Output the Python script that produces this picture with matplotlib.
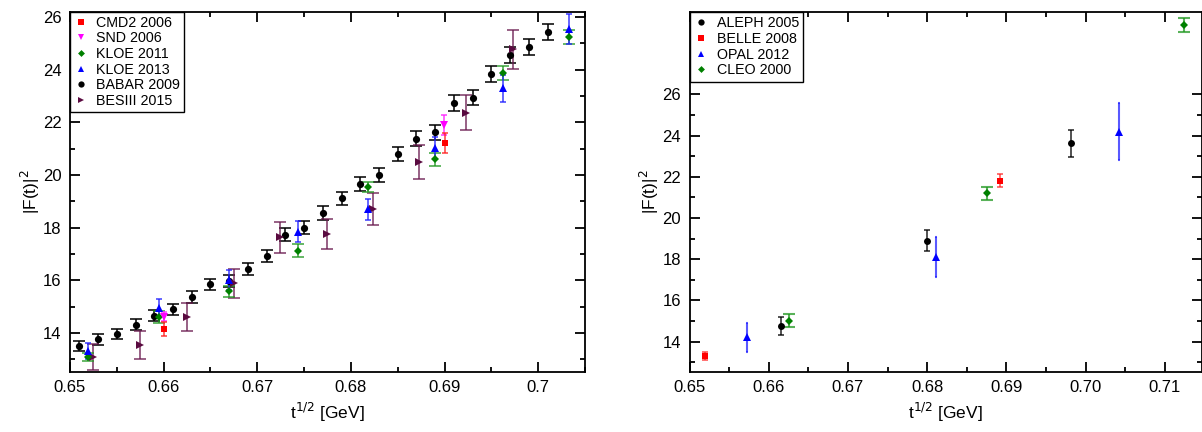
import numpy as np
import matplotlib.pyplot as plt
from matplotlib.lines import Line2D
from matplotlib.ticker import MultipleLocator, FixedLocator, FixedFormatter

plt.rcParams['font.family'] = ['Liberation Sans', 'DejaVu Sans']
plt.rcParams['font.size'] = 10

# =========================
# LEFT PANEL DATA (e+e- -> pi+pi-)
# =========================
cmd2_x = [0.6600, 0.6900]
cmd2_y = [14.14, 21.20]
cmd2_e = [0.27, 0.38]

snd_x = [0.6600, 0.6899]
snd_y = [14.62, 21.90]
snd_e = [0.18, 0.38]

kloe11_x = [0.6519, 0.6595, 0.6670, 0.6744, 0.6818, 0.6890, 0.6962, 0.7033]
kloe11_y = [13.10, 14.60, 15.58, 17.13, 19.56, 20.60, 23.86, 25.23]
kloe11_e = [0.15, 0.23, 0.20, 0.25, 0.19, 0.25, 0.27, 0.27]

kloe13_x = [0.6519, 0.6595, 0.6670, 0.6744, 0.6818, 0.6890, 0.6962, 0.7033]
kloe13_y = [13.32, 14.94, 16.02, 17.85, 18.70, 21.03, 23.29, 25.53]
kloe13_e = [0.32, 0.34, 0.38, 0.41, 0.39, 0.42, 0.52, 0.57]

babar_x = [0.651, 0.653, 0.655, 0.657, 0.659, 0.661, 0.663, 0.665, 0.667,
           0.669, 0.671, 0.673, 0.675, 0.677, 0.679, 0.681, 0.683, 0.685,
           0.687, 0.689, 0.691, 0.693, 0.695, 0.697, 0.699, 0.701]
babar_y = [13.52, 13.76, 13.96, 14.32, 14.66, 14.91, 15.36, 15.85, 15.99,
           16.42, 16.92, 17.74, 18.00, 18.56, 19.11, 19.66, 20.01, 20.79,
           21.38, 21.62, 22.73, 22.94, 23.84, 24.57, 24.85, 25.44]
babar_e = [0.19, 0.20, 0.20, 0.21, 0.21, 0.21, 0.22, 0.22, 0.23,
           0.23, 0.24, 0.24, 0.25, 0.25, 0.26, 0.26, 0.27, 0.27,
           0.28, 0.28, 0.29, 0.29, 0.29, 0.30, 0.30, 0.30]

bes_x = [0.6525, 0.6575, 0.6625, 0.6675, 0.6724, 0.6774, 0.6824, 0.6873, 0.6923, 0.6973]
bes_y = [13.10, 13.54, 14.60, 15.89, 17.63, 17.76, 18.70, 20.50, 22.37, 24.77]
bes_e = [0.50, 0.52, 0.53, 0.56, 0.60, 0.58, 0.61, 0.65, 0.66, 0.73]

# =========================
# RIGHT PANEL DATA (tau decays)
# =========================
aleph_x = [0.6615, 0.6800, 0.6982]
aleph_y = [14.76, 18.89, 23.63]
aleph_e = [0.42, 0.51, 0.65]

belle_x = [0.6520, 0.6892]
belle_y = [13.31, 21.82]
belle_e = [0.18, 0.30]

opal_x = [0.6573, 0.6811, 0.7042]
opal_y = [14.21, 18.13, 24.19]
opal_e = [0.70, 0.97, 1.37]

cleo_x = [0.6626, 0.6875, 0.7124]
cleo_y = [15.02, 21.20, 29.37]
cleo_e = [0.32, 0.32, 0.36]

left_xticks = [0.65, 0.66, 0.67, 0.68, 0.69, 0.70]
left_xlabels = ['0.65', '0.66', '0.67', '0.68', '0.69', '0.7']
right_xticks = [0.65, 0.66, 0.67, 0.68, 0.69, 0.70, 0.71]
right_xlabels = ['0.65', '0.66', '0.67', '0.68', '0.69', '0.70', '0.71']

# =========================
# FIGURE
# =========================
fig = plt.figure(figsize=(12.02, 4.32), dpi=100)
axL = fig.add_axes([70 / 1202, 1 - 372 / 432, 515 / 1202, 360 / 432])
axR = fig.add_axes([689.5 / 1202, 1 - 372 / 432, 512.5 / 1202, 360 / 432])


def series(ax, x, y, e, marker, color, ecolor, ms, cap, lw=1.3, alpha=0.75):
    ax.errorbar(x, y, yerr=e, fmt='none', ecolor=ecolor, elinewidth=lw,
                capsize=cap, capthick=lw, alpha=alpha, zorder=2)
    ax.plot(x, y, linestyle='none', marker=marker, color=color,
            markersize=ms, markeredgewidth=0, zorder=3)


# left panel
series(axL, babar_x, babar_y, babar_e, 'o', 'black', 'black', 5.2, 4, alpha=0.85)
series(axL, bes_x, bes_y, bes_e, '>', '#5a0a40', '#6a1a50', 5.3, 4)
series(axL, kloe11_x, kloe11_y, kloe11_e, 'D', '#008000', '#229922', 3.8, 4)
series(axL, kloe13_x, kloe13_y, kloe13_e, '^', '#0000ff', '#2222ff', 5.5, 2.2)
series(axL, snd_x, snd_y, snd_e, 'v', '#ff00ff', '#ff22ff', 5.5, 2.2)
series(axL, cmd2_x, cmd2_y, cmd2_e, 's', '#ff0000', '#ff2222', 4.5, 2.2)

# right panel
series(axR, aleph_x, aleph_y, aleph_e, 'o', 'black', 'black', 5, 2, lw=1.2, alpha=0.8)
series(axR, belle_x, belle_y, belle_e, 's', '#ff0000', '#ff2222', 4.5, 2, lw=1.2)
series(axR, opal_x, opal_y, opal_e, '^', '#0000ff', '#2222ff', 5.5, 1, lw=1.5)
series(axR, cleo_x, cleo_y, cleo_e, 'D', '#008000', '#229922', 3.8, 4, lw=1.5)

# =========================
# AXES STYLE
# =========================
axL.set_xlim(0.65, 0.705)
axL.set_ylim(12.52, 26.19)
axL.xaxis.set_major_locator(FixedLocator(left_xticks))
axL.xaxis.set_major_formatter(FixedFormatter(left_xlabels))
axL.yaxis.set_major_locator(FixedLocator([14, 16, 18, 20, 22, 24, 26]))
axL.yaxis.set_minor_locator(FixedLocator([13, 15, 17, 19, 21, 23, 25]))
axL.xaxis.set_minor_locator(MultipleLocator(0.005))

axR.set_xlim(0.65, 0.7147)
axR.set_ylim(12.53, 30.0)
axR.xaxis.set_major_locator(FixedLocator(right_xticks))
axR.xaxis.set_major_formatter(FixedFormatter(right_xlabels))
axR.yaxis.set_major_locator(FixedLocator([14, 16, 18, 20, 22, 24, 26]))
axR.yaxis.set_minor_locator(FixedLocator([13, 15, 17, 19, 21, 23, 25]))
axR.xaxis.set_minor_locator(MultipleLocator(0.005))

for ax in (axL, axR):
    for sp in ax.spines.values():
        sp.set_linewidth(1.3)
    ax.tick_params(which='both', direction='in', top=True, right=True,
                   labelsize=12, width=1.3, pad=6)
    ax.tick_params(which='major', length=7)
    ax.tick_params(which='minor', length=3.5)
    ax.set_xlabel('t$^{1/2}$ [GeV]', fontsize=12.5, labelpad=4)
    ax.set_ylabel('|F(t)|$^2$', fontsize=12.5, labelpad=1)

# =========================
# LEGENDS
# =========================
def handle(marker, color, ms):
    return Line2D([], [], linestyle='none', marker=marker, color=color,
                  markersize=ms, markeredgewidth=0)


hL = [handle('s', '#ff0000', 4), handle('v', '#ff00ff', 4.5),
      handle('D', '#008000', 3.5), handle('^', '#0000ff', 4.5),
      handle('o', 'black', 4.5), handle('>', '#5a0a40', 4.5)]
lL = ['CMD2 2006', 'SND 2006', 'KLOE 2011', 'KLOE 2013', 'BABAR 2009', 'BESIII 2015']
legL = axL.legend(hL, lL, loc='upper left', borderaxespad=0, fontsize=10.3,
                  fancybox=False, framealpha=1, edgecolor='black',
                  handlelength=1.0, handletextpad=0.6, labelspacing=0.12,
                  borderpad=0.25)
legL.get_frame().set_linewidth(1.0)

hR = [handle('o', 'black', 4.5), handle('s', '#ff0000', 4),
      handle('^', '#0000ff', 4.5), handle('D', '#008000', 3.5)]
lR = ['ALEPH 2005', 'BELLE 2008', 'OPAL 2012', 'CLEO 2000']
legR = axR.legend(hR, lR, loc='upper left', borderaxespad=0, fontsize=10.3,
                  fancybox=False, framealpha=1, edgecolor='black',
                  handlelength=1.0, handletextpad=0.6, labelspacing=0.12,
                  borderpad=0.3)
legR.get_frame().set_linewidth(1.0)

fig.savefig('out.png', dpi=100)
